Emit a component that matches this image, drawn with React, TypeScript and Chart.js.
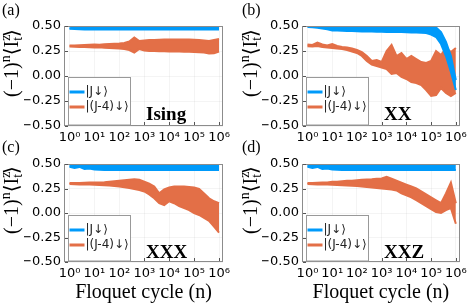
import React, { useEffect, useRef } from 'react';
import { Chart, registerables } from 'chart.js';

Chart.register(...registerables);

// ---- data (log10 of Floquet cycle n) ----
const LOG_N = [0, 0.2, 0.4, 0.6, 0.8, 1, 1.2, 1.4, 1.6, 1.8, 2, 2.2, 2.4, 2.6, 2.8, 3, 3.2, 3.4, 3.6, 3.8, 4, 4.2, 4.4, 4.6, 4.8, 5, 5.2, 5.4, 5.6, 5.8, 6];

const X_TICKS = [1, 10, 100, 1000, 10000, 100000, 1000000];
const X_TICK_LABELS = ['10⁰', '10¹', '10²', '10³', '10⁴', '10⁵', '10⁶'];
const Y_TICKS = [-0.5, -0.25, 0, 0.25, 0.5];
const Y_TICK_LABELS = ['\u22120.50', '\u22120.25', '0.00', '0.25', '0.50'];
const SERIES_NAMES = ['|J\u2193\u27E9', '|(J-4)\u2193\u27E9'];
const PANEL_LETTERS = ['(a)', '(b)', '(c)', '(d)'];
const MODEL_NAMES = ['Ising', 'XX', 'XXX', 'XXZ'];
const X_TITLE = 'Floquet cycle (n)';

// (a) Ising
const ISING_BLUE_HI = [0.478, 0.485, 0.49, 0.494, 0.496, 0.497, 0.497, 0.498, 0.498, 0.498, 0.498, 0.498, 0.498, 0.498, 0.498, 0.498, 0.498, 0.498, 0.498, 0.498, 0.498, 0.498, 0.498, 0.498, 0.498, 0.498, 0.498, 0.498, 0.498, 0.498, 0.498];
const ISING_BLUE_LO = [0.472, 0.47, 0.467, 0.466, 0.465, 0.464, 0.464, 0.465, 0.465, 0.465, 0.465, 0.465, 0.465, 0.465, 0.465, 0.465, 0.465, 0.465, 0.465, 0.465, 0.465, 0.465, 0.465, 0.465, 0.465, 0.465, 0.465, 0.465, 0.465, 0.465, 0.465];
const ISING_ORANGE_HI = [0.305, 0.305, 0.307, 0.31, 0.312, 0.315, 0.313, 0.318, 0.32, 0.322, 0.325, 0.33, 0.345, 0.385, 0.35, 0.355, 0.36, 0.36, 0.362, 0.365, 0.365, 0.365, 0.365, 0.365, 0.365, 0.362, 0.36, 0.355, 0.35, 0.36, 0.37];
const ISING_ORANGE_LO = [0.295, 0.293, 0.29, 0.29, 0.288, 0.285, 0.287, 0.283, 0.28, 0.278, 0.275, 0.27, 0.26, 0.235, 0.27, 0.255, 0.25, 0.25, 0.248, 0.247, 0.245, 0.245, 0.245, 0.243, 0.242, 0.24, 0.238, 0.235, 0.225, 0.228, 0.245];

// (b) XX
const XX_BLUE_HI = [0.5, 0.498, 0.495, 0.49, 0.485, 0.49, 0.486, 0.486, 0.488, 0.49, 0.49, 0.492, 0.493, 0.494, 0.495, 0.495, 0.495, 0.495, 0.495, 0.495, 0.495, 0.495, 0.495, 0.495, 0.495, 0.49, 0.485, 0.44, 0.34, 0.2, -0.04];
const XX_BLUE_LO = [0.49, 0.487, 0.482, 0.475, 0.468, 0.456, 0.455, 0.452, 0.45, 0.45, 0.448, 0.446, 0.445, 0.444, 0.443, 0.442, 0.44, 0.44, 0.44, 0.44, 0.438, 0.436, 0.434, 0.432, 0.43, 0.415, 0.39, 0.32, 0.2, 0.04, -0.14];
const XX_ORANGE_HI = [0.315, 0.31, 0.335, 0.315, 0.305, 0.32, 0.3, 0.29, 0.285, 0.275, 0.26, 0.24, 0.2, 0.15, 0.16, 0.14, 0.25, 0.31, 0.2, 0.23, 0.17, 0.2, 0.17, 0.14, 0.13, 0.15, 0.25, 0.21, 0.28, 0.24, 0.28];
const XX_ORANGE_LO = [0.298, 0.295, 0.3, 0.29, 0.285, 0.28, 0.275, 0.27, 0.26, 0.245, 0.23, 0.2, 0.15, 0.115, 0.1, 0.085, 0.07, 0.02, 0.03, -0.01, -0.03, -0.06, -0.07, -0.09, -0.14, -0.2, -0.19, -0.12, -0.17, -0.2, -0.17];

// (c) XXX
const XXX_BLUE_HI = [0.478, 0.492, 0.498, 0.49, 0.497, 0.497, 0.497, 0.497, 0.497, 0.497, 0.497, 0.497, 0.497, 0.497, 0.497, 0.497, 0.497, 0.497, 0.497, 0.497, 0.497, 0.497, 0.497, 0.497, 0.497, 0.497, 0.497, 0.497, 0.497, 0.497, 0.497];
const XXX_BLUE_LO = [0.472, 0.46, 0.47, 0.45, 0.455, 0.445, 0.442, 0.44, 0.44, 0.438, 0.438, 0.438, 0.438, 0.438, 0.438, 0.438, 0.438, 0.438, 0.438, 0.438, 0.438, 0.438, 0.438, 0.438, 0.438, 0.438, 0.438, 0.438, 0.438, 0.438, 0.438];
const XXX_ORANGE_HI = [0.305, 0.305, 0.307, 0.308, 0.31, 0.31, 0.312, 0.315, 0.32, 0.325, 0.33, 0.335, 0.34, 0.345, 0.34, 0.32, 0.3, 0.27, 0.2, 0.24, 0.26, 0.27, 0.27, 0.27, 0.265, 0.26, 0.245, 0.2, 0.15, 0.12, 0.1];
const XXX_ORANGE_LO = [0.295, 0.293, 0.292, 0.29, 0.29, 0.288, 0.285, 0.283, 0.28, 0.275, 0.27, 0.262, 0.255, 0.245, 0.235, 0.22, 0.19, 0.15, 0.1, 0.08, 0.12, 0.1, 0.07, 0.05, 0.03, 0.0, -0.02, -0.05, -0.08, -0.14, -0.2];

// (d) XXZ
const XXZ_BLUE_HI = [0.478, 0.492, 0.498, 0.49, 0.497, 0.497, 0.497, 0.497, 0.497, 0.497, 0.497, 0.497, 0.497, 0.497, 0.497, 0.497, 0.497, 0.497, 0.497, 0.497, 0.497, 0.497, 0.497, 0.497, 0.497, 0.497, 0.497, 0.497, 0.497, 0.497, 0.497];
const XXZ_BLUE_LO = [0.472, 0.46, 0.47, 0.45, 0.455, 0.445, 0.442, 0.44, 0.44, 0.438, 0.438, 0.438, 0.438, 0.438, 0.438, 0.438, 0.438, 0.438, 0.438, 0.438, 0.438, 0.438, 0.438, 0.438, 0.438, 0.438, 0.438, 0.438, 0.438, 0.438, 0.438];
const XXZ_ORANGE_HI = [0.305, 0.305, 0.308, 0.31, 0.312, 0.318, 0.32, 0.325, 0.328, 0.33, 0.335, 0.34, 0.342, 0.345, 0.35, 0.352, 0.37, 0.35, 0.33, 0.31, 0.29, 0.27, 0.25, 0.22, 0.19, 0.16, 0.13, 0.1, 0.2, 0.31, 0.1];
const XXZ_ORANGE_LO = [0.295, 0.294, 0.292, 0.29, 0.29, 0.287, 0.285, 0.283, 0.28, 0.278, 0.275, 0.27, 0.265, 0.26, 0.255, 0.25, 0.245, 0.24, 0.23, 0.2, 0.18, 0.16, 0.13, 0.1, 0.07, 0.04, 0.01, 0.0, 0.03, 0.05, -0.11];

const SERIES = [
  [ISING_BLUE_HI, ISING_BLUE_LO, ISING_ORANGE_HI, ISING_ORANGE_LO],
  [XX_BLUE_HI, XX_BLUE_LO, XX_ORANGE_HI, XX_ORANGE_LO],
  [XXX_BLUE_HI, XXX_BLUE_LO, XXX_ORANGE_HI, XXX_ORANGE_LO],
  [XXZ_BLUE_HI, XXZ_BLUE_LO, XXZ_ORANGE_HI, XXZ_ORANGE_LO],
];

// ---- style / layout ----
const W = 471;
const H = 307;
const BLUE = 'rgb(0,154,250)';
const ORANGE = 'rgb(227,111,71)';
const FRAME = '#8c8c8c';
const SERIF = '"Liberation Serif", "DejaVu Serif", serif';
const SANS = '"DejaVu Sans", sans-serif';
const Y_AXIS_W = 40;
const X_AXIS_H = 22;

const PANELS = [
  { left: 64, right: 223, top: 26, bottom: 126, letterX: 2, letterY: 15, nameY: 120, ytX: 12, ytY: 63, xTitle: false },
  { left: 302, right: 460, top: 26, bottom: 126, letterX: 242, letterY: 15, nameY: 120, ytX: 251, ytY: 63, xTitle: false },
  { left: 64, right: 223, top: 164, bottom: 262, letterX: 2, letterY: 152, nameY: 258, ytX: 12, ytY: 200, xTitle: true },
  { left: 302, right: 460, top: 164, bottom: 262, letterX: 242, letterY: 152, nameY: 258, ytX: 251, ytY: 200, xTitle: true },
];

const toPoints = (arr: number[]) => LOG_N.map((l, i) => ({ x: Math.pow(10, l), y: arr[i] }));

function drawYTitle(ctx: CanvasRenderingContext2D, cx: number, cy: number) {
  const big = `20px ${SERIF}`;
  const small = `14px ${SERIF}`;
  type Seg = { t: string; f: string; dy: number; stack?: boolean };
  const segs: Seg[] = [
    { t: '(\u22121)', f: big, dy: 0 },
    { t: 'n', f: small, dy: -8 },
    { t: '\u27E8', f: big, dy: 0 },
    { t: 'I', f: big, dy: 0 },
    { t: 'z', f: small, dy: -8, stack: true },
    { t: 't', f: small, dy: 4 },
    { t: '\u27E9', f: big, dy: 0 },
  ];
  ctx.save();
  ctx.translate(cx, cy);
  ctx.rotate(-Math.PI / 2);
  ctx.fillStyle = '#000';
  ctx.textBaseline = 'alphabetic';
  ctx.textAlign = 'left';
  const widths = segs.map((s) => {
    ctx.font = s.f;
    return ctx.measureText(s.t).width;
  });
  let total = 0;
  segs.forEach((s, i) => {
    if (!s.stack) total += widths[i];
  });
  let x = -total / 2;
  segs.forEach((s, i) => {
    ctx.font = s.f;
    ctx.fillText(s.t, x, 6 + s.dy);
    if (!s.stack) x += widths[i];
  });
  ctx.restore();
}

function makeDecor(idx: number) {
  const p = PANELS[idx];
  return {
    id: 'decor' + idx,
    afterDraw(chart: any) {
      const { ctx, chartArea: a, scales } = chart;
      ctx.save();
      // frame
      ctx.strokeStyle = FRAME;
      ctx.lineWidth = 1;
      ctx.strokeRect(Math.round(a.left) + 0.5, Math.round(a.top) + 0.5, Math.round(a.right - a.left) - 1, Math.round(a.bottom - a.top) - 1);
      // inner tick marks
      ctx.strokeStyle = '#555';
      ctx.beginPath();
      X_TICKS.forEach((v) => {
        const px = Math.round(scales.x.getPixelForValue(v)) + 0.5;
        ctx.moveTo(px, a.bottom - 1);
        ctx.lineTo(px, a.bottom - 4);
      });
      Y_TICKS.forEach((v) => {
        const py = Math.round(scales.y.getPixelForValue(v)) + 0.5;
        ctx.moveTo(a.left + 1, py);
        ctx.lineTo(a.left + 4, py);
      });
      ctx.stroke();
      // legend
      const bx = Math.round(a.left) + 4.5;
      const by = Math.round(a.top) + 51.5;
      const bw = 62;
      const bh = Math.round(a.bottom) - 1 - by;
      ctx.fillStyle = '#fff';
      ctx.fillRect(bx, by, bw, bh);
      ctx.strokeStyle = '#999';
      ctx.lineWidth = 1;
      ctx.strokeRect(bx, by, bw, bh);
      const colors = [BLUE, ORANGE];
      SERIES_NAMES.forEach((name, i) => {
        const y = by + 14.5 + i * 15;
        ctx.strokeStyle = colors[i];
        ctx.lineWidth = 3;
        ctx.beginPath();
        ctx.moveTo(bx + 1, y);
        ctx.lineTo(bx + 16, y);
        ctx.stroke();
        ctx.fillStyle = '#222';
        ctx.font = `12px ${SANS}`;
        ctx.textBaseline = 'middle';
        ctx.textAlign = 'left';
        ctx.fillText(name, bx + 17, y);
      });
      // model name
      ctx.fillStyle = '#000';
      ctx.font = `bold 19px ${SERIF}`;
      ctx.textBaseline = 'alphabetic';
      ctx.textAlign = 'left';
      ctx.fillText(MODEL_NAMES[idx], a.left + 82, p.nameY);
      // panel letter
      ctx.font = `16px ${SERIF}`;
      ctx.fillText(PANEL_LETTERS[idx], p.letterX, p.letterY);
      // x title
      if (p.xTitle) {
        ctx.font = `20px ${SERIF}`;
        ctx.textAlign = 'center';
        ctx.fillText(X_TITLE, (a.left + a.right) / 2, 298);
      }
      ctx.restore();
      drawYTitle(ctx, p.ytX, p.ytY);
    },
  };
}

function makeConfig(idx: number): any {
  const p = PANELS[idx];
  const [bHi, bLo, oHi, oLo] = SERIES[idx];
  const line = (data: number[], color: string, fill: any) => ({
    data: toPoints(data),
    borderColor: color,
    backgroundColor: color,
    borderWidth: 2,
    pointRadius: 0,
    tension: 0,
    fill,
  });
  return {
    type: 'line',
    data: {
      datasets: [line(bHi, BLUE, false), line(bLo, BLUE, '-1'), line(oHi, ORANGE, false), line(oLo, ORANGE, '-1')],
    },
    options: {
      responsive: false,
      animation: false,
      devicePixelRatio: 1,
      events: [],
      layout: {
        padding: { left: p.left - Y_AXIS_W, right: W - p.right, top: p.top, bottom: H - p.bottom - X_AXIS_H },
      },
      plugins: { legend: { display: false }, tooltip: { enabled: false } },
      scales: {
        x: {
          type: 'logarithmic',
          min: Math.pow(10, -0.2),
          max: Math.pow(10, 6.16),
          afterBuildTicks: (s: any) => {
            s.ticks = X_TICKS.map((v) => ({ value: v }));
          },
          afterFit: (s: any) => {
            s.height = X_AXIS_H;
          },
          ticks: {
            callback: (_v: any, i: number) => X_TICK_LABELS[i],
            font: { family: SANS, size: 13 },
            color: '#000',
            padding: 4,
            maxRotation: 0,
            autoSkip: false,
          },
          grid: { color: 'rgba(0,0,0,0.08)', lineWidth: 0.6, drawTicks: false },
          border: { display: false },
        },
        y: {
          min: -0.5,
          max: 0.5,
          afterBuildTicks: (s: any) => {
            s.ticks = Y_TICKS.map((v) => ({ value: v }));
          },
          afterFit: (s: any) => {
            s.width = Y_AXIS_W;
          },
          ticks: {
            callback: (_v: any, i: number) => Y_TICK_LABELS[i],
            font: { family: SANS, size: 13 },
            color: '#000',
            padding: 3,
          },
          grid: { color: 'rgba(0,0,0,0.08)', lineWidth: 0.6, drawTicks: false },
          border: { display: false },
        },
      },
    },
    plugins: [makeDecor(idx)],
  };
}

function Panel({ idx }: { idx: number }) {
  const ref = useRef<HTMLCanvasElement | null>(null);
  useEffect(() => {
    if (!ref.current) return;
    const chart = new Chart(ref.current, makeConfig(idx));
    return () => chart.destroy();
  }, [idx]);
  return (
    <canvas
      ref={ref}
      width={W}
      height={H}
      style={{ position: 'absolute', left: 0, top: 0, width: W, height: H }}
    />
  );
}

export default function App() {
  return (
    <div style={{ position: 'fixed', left: 0, top: 0, width: W, height: H, background: '#fff' }}>
      {[0, 1, 2, 3].map((i) => (
        <Panel key={i} idx={i} />
      ))}
    </div>
  );
}
